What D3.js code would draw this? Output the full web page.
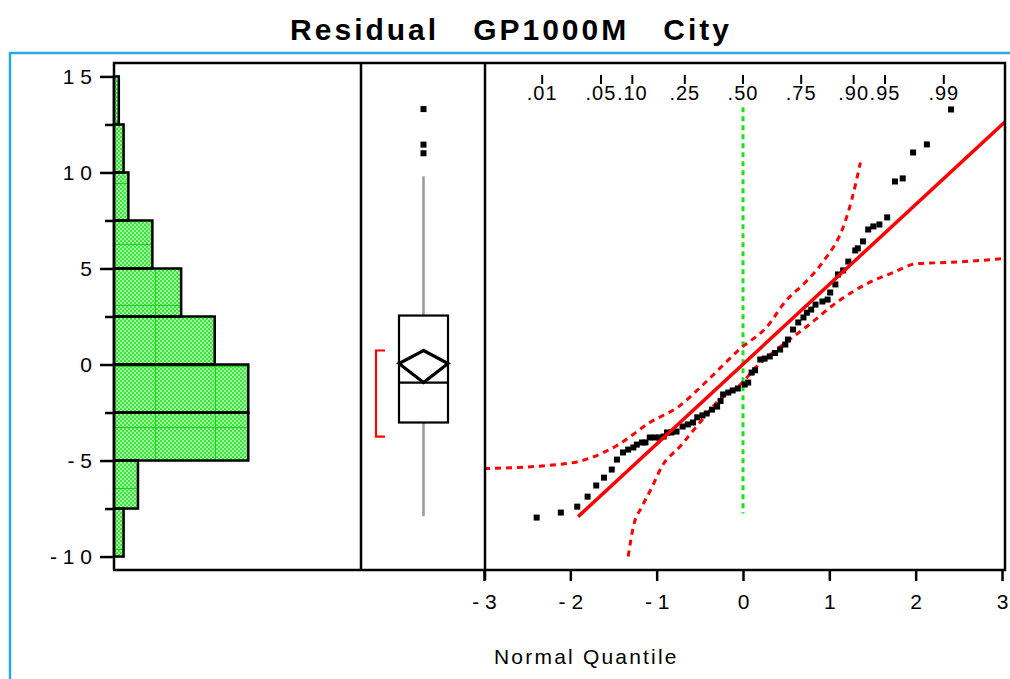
<!DOCTYPE html>
<html>
<head>
<meta charset="utf-8">
<script src="https://cdn.jsdelivr.net/npm/d3@7"></script>
<style>
  body { margin: 0; background: #fff; }
  svg { display: block; font-family: "Liberation Sans", Arial, sans-serif; }
</style>
</head>
<body>
<div id="chart"></div>
<script>
// ---- data ----
const binLow    = [-10, -7.5, -5, -2.5, 0, 2.5, 5, 7.5, 10, 12.5];
const binCounts = [2, 5, 28, 28, 21, 14, 8, 3, 2, 1];

const yMajorTicks = [-10, -5, 0, 5, 10, 15];
const yMinorTicks = [-7.5, -2.5, 2.5, 7.5, 12.5];

// outlier box plot
const whiskerLow = -7.9, q1 = -3.02, median = -0.94, q3 = 2.55, whiskerHigh = 9.8;
const meanValue = 0.05, meanLower = -0.94, meanUpper = 0.73;
const shortestHalf = [-3.75, 0.73];
const outliers = [11.0, 11.45, 13.3];

// normal quantile plot
const qqQuantile = [-2.39,-2.11,-1.92,-1.80,-1.70,-1.61,-1.52,-1.46,-1.39,-1.33,-1.27,-1.23,-1.17,-1.13,
  -1.08,-1.02,-0.97,-0.92,-0.88,-0.83,-0.77,-0.70,-0.64,-0.58,-0.53,-0.47,-0.42,-0.36,-0.30,-0.26,-0.23,
  -0.17,-0.12,-0.06,0.02,0.06,0.10,0.14,0.20,0.25,0.31,0.37,0.43,0.49,0.52,0.58,0.64,0.70,0.74,0.79,0.84,
  0.92,0.98,1.01,1.07,1.10,1.16,1.22,1.30,1.33,1.39,1.45,1.51,1.58,1.67,1.76,1.85,1.97,2.13,2.41];
const qqResidual = [-7.97,-7.71,-7.40,-6.88,-6.30,-5.89,-5.47,-4.95,-4.58,-4.43,-4.32,-4.17,-4.06,-4.06,
  -3.80,-3.80,-3.80,-3.75,-3.54,-3.54,-3.49,-3.23,-3.12,-3.02,-2.75,-2.65,-2.55,-2.35,-2.19,-1.90,-1.56,
  -1.46,-1.35,-1.25,-1.04,-0.94,-0.42,-0.30,0.26,0.31,0.42,0.60,0.78,1.04,1.30,1.82,2.19,2.45,2.70,2.86,3.12,
  3.28,3.38,3.75,4.17,4.69,4.90,5.36,5.94,6.05,6.41,7.03,7.19,7.29,7.66,9.53,9.69,11.04,11.46,13.28];

const fitLine = [[-1.91, -7.92], [3.1, 12.9]];
const bandUpper = [[-3.0,-5.42],[-2.04,-5.16],[-1.46,-4.22],[-1.08,-3.02],[-0.73,-2.14],[-0.46,-1.04],
  [-0.03,0.83],[0.28,1.98],[0.49,3.28],[0.72,4.27],[0.92,5.31],[1.18,7.40],[1.26,8.59],[1.36,10.52]];
const bandLower = [[-1.33,-10.0],[-1.27,-8.44],[-1.17,-7.40],[-1.05,-6.35],[-0.94,-5.31],[-0.73,-4.27],
  [-0.50,-3.02],[-0.27,-1.82],[-0.03,-1.04],[0.16,-0.10],[0.39,0.78],[0.74,1.98],[1.10,3.28],[1.44,4.22],
  [1.74,4.79],[2.02,5.26],[2.36,5.31],[3.04,5.52]];
const medianLine = [-7.76, 13.4];

const probLabels = [".01", ".05", ".10", ".25", ".50", ".75", ".90", ".95", ".99"];
const probQuantiles = [-2.326, -1.645, -1.2816, -0.674, 0, 0.674, 1.2816, 1.645, 2.326];
const xTicks = [-3, -2, -1, 0, 1, 2, 3];

// ---- layout ----
const W = 1010, H = 679;
const plotTop = 63, plotBottom = 570;
const histLeft = 114, boxLeft = 361, qqLeft = 485, qqRight = 1005;

const svg = d3.select("#chart").append("svg").attr("width", W).attr("height", H);

const defs = svg.append("defs");
const dots = defs.append("pattern").attr("id", "dots")
  .attr("width", 4).attr("height", 4).attr("patternUnits", "userSpaceOnUse");
dots.append("rect").attr("width", 4).attr("height", 4).attr("fill", "#9cf59c");
dots.append("rect").attr("width", 2).attr("height", 2).attr("fill", "#3fe23f");
dots.append("rect").attr("x", 2).attr("y", 2).attr("width", 2).attr("height", 2).attr("fill", "#3fe23f");
const grid = defs.append("pattern").attr("id", "grid")
  .attr("x", 155).attr("y", 183).attr("width", 60).attr("height", 61)
  .attr("patternUnits", "userSpaceOnUse");
grid.append("line").attr("x1", 0.5).attr("x2", 0.5).attr("y1", 0).attr("y2", 61)
  .attr("stroke", "#1fd01f").attr("stroke-width", 1);
grid.append("line").attr("x1", 0).attr("x2", 60).attr("y1", 0.5).attr("y2", 0.5)
  .attr("stroke", "#1fd01f").attr("stroke-width", 1);

const y = d3.scaleLinear().domain([-10.7, 15.7]).range([plotBottom, plotTop]);
const xc = d3.scaleLinear().domain([0, 51.5]).range([histLeft, boxLeft]);
const xq = d3.scaleLinear().domain([-3, 3]).range([484, 1002]);

const spaced = d => String(d).split("").join(" ");

// blue outer border
svg.append("path")
  .attr("d", `M10,${H} L10,53 L${W},53`)
  .attr("fill", "none").attr("stroke", "#2aa8df").attr("stroke-width", 2.5);

// title
svg.append("text")
  .attr("x", 511).attr("y", 40)
  .attr("text-anchor", "middle")
  .style("font-size", "30px").style("font-weight", "bold")
  .style("letter-spacing", "3px").style("white-space", "pre")
  .text("Residual   GP1000M   City");

// ---- histogram ----
const bins = binLow.map((lo, i) => ({ lo: lo, hi: lo + 2.5, n: binCounts[i] }));
const hist = svg.append("g");
hist.selectAll(".bar").data(bins).join("rect")
  .attr("x", xc(0))
  .attr("y", d => y(d.hi))
  .attr("width", d => xc(d.n) - xc(0))
  .attr("height", d => y(d.lo) - y(d.hi))
  .attr("fill", "url(#dots)");
hist.selectAll(".gridbar").data(bins).join("rect")
  .attr("x", xc(0))
  .attr("y", d => y(d.hi))
  .attr("width", d => xc(d.n) - xc(0))
  .attr("height", d => y(d.lo) - y(d.hi))
  .attr("fill", "url(#grid)")
  .attr("stroke", "#000").attr("stroke-width", 2.5);

// histogram y axis
svg.append("g")
  .attr("transform", `translate(${histLeft},0)`)
  .call(d3.axisLeft(y).tickValues(yMajorTicks).tickSize(14).tickPadding(8).tickFormat(spaced))
  .call(g => g.select(".domain").remove())
  .call(g => g.selectAll("line").attr("stroke-width", 2.5))
  .call(g => g.selectAll("text").style("font-size", "21px").attr("fill", "#000"));
svg.append("g")
  .attr("transform", `translate(${histLeft},0)`)
  .call(d3.axisLeft(y).tickValues(yMinorTicks).tickSize(9).tickFormat(""))
  .call(g => g.select(".domain").remove())
  .call(g => g.selectAll("line").attr("stroke-width", 2.5));

// ---- box plot ----
const bx0 = 399, bx1 = 448, bxc = (bx0 + bx1) / 2;
const box = svg.append("g");
box.append("line").attr("x1", bxc).attr("x2", bxc).attr("y1", y(whiskerHigh)).attr("y2", y(q3))
  .attr("stroke", "#999").attr("stroke-width", 2.5);
box.append("line").attr("x1", bxc).attr("x2", bxc).attr("y1", y(q1)).attr("y2", y(whiskerLow))
  .attr("stroke", "#999").attr("stroke-width", 2.5);
box.append("rect").attr("x", bx0).attr("y", y(q3)).attr("width", bx1 - bx0).attr("height", y(q1) - y(q3))
  .attr("fill", "none").attr("stroke", "#000").attr("stroke-width", 2.2);
box.append("line").attr("x1", bx0).attr("x2", bx1).attr("y1", y(median)).attr("y2", y(median))
  .attr("stroke", "#000").attr("stroke-width", 2.2);
box.append("path")
  .attr("d", `M${bxc},${y(meanUpper)} L${bx1},${y(meanValue)} L${bxc},${y(meanLower)} L${bx0},${y(meanValue)} Z`)
  .attr("fill", "none").attr("stroke", "#000").attr("stroke-width", 3.2);
box.append("path")
  .attr("d", `M385,${y(shortestHalf[1])} L376,${y(shortestHalf[1])} L376,${y(shortestHalf[0])} L385,${y(shortestHalf[0])}`)
  .attr("fill", "none").attr("stroke", "#f00").attr("stroke-width", 2.2);
box.selectAll(".out").data(outliers).join("rect")
  .attr("x", bxc - 3).attr("y", d => y(d) - 3).attr("width", 6).attr("height", 6).attr("fill", "#000");

// ---- normal quantile plot ----
const qq = svg.append("g");
const lineGen = d3.line().x(d => xq(d[0])).y(d => y(d[1]));
const curveGen = d3.line().x(d => xq(d[0])).y(d => y(d[1])).curve(d3.curveMonotoneX);

qq.append("line")
  .attr("x1", xq(0)).attr("x2", xq(0)).attr("y1", y(medianLine[1])).attr("y2", y(medianLine[0]))
  .attr("stroke", "#22dd22").attr("stroke-width", 3).attr("stroke-dasharray", "5,4");

qq.append("clipPath").attr("id", "qqclip").append("rect")
  .attr("x", qqLeft).attr("y", plotTop).attr("width", qqRight - qqLeft).attr("height", plotBottom - plotTop);
const clipped = qq.append("g").attr("clip-path", "url(#qqclip)");

clipped.append("path").attr("d", curveGen(bandUpper))
  .attr("fill", "none").attr("stroke", "#f00").attr("stroke-width", 3).attr("stroke-dasharray", "6,5");
clipped.append("path").attr("d", curveGen(bandLower))
  .attr("fill", "none").attr("stroke", "#f00").attr("stroke-width", 3).attr("stroke-dasharray", "6,5");

const pts = qqQuantile.map((q, i) => [q, qqResidual[i]]);
clipped.selectAll(".pt").data(pts).join("rect")
  .attr("x", d => xq(d[0]) - 3).attr("y", d => y(d[1]) - 3)
  .attr("width", 6).attr("height", 6).attr("fill", "#000");

clipped.append("path").attr("d", lineGen(fitLine))
  .attr("fill", "none").attr("stroke", "#f00").attr("stroke-width", 3.5);

// probability scale on top
const prob = svg.append("g");
prob.selectAll(".pt").data(probQuantiles).join("line")
  .attr("x1", d => xq(d)).attr("x2", d => xq(d)).attr("y1", 75).attr("y2", 84)
  .attr("stroke", "#000").attr("stroke-width", 2);
prob.selectAll(".pl").data(probLabels).join("text")
  .attr("x", (d, i) => xq(probQuantiles[i]))
  .attr("y", 100)
  .attr("text-anchor", "middle")
  .style("font-size", "20px").style("letter-spacing", "1px")
  .text(d => d);

// quantile x axis
svg.append("g")
  .attr("transform", `translate(0,${plotBottom})`)
  .call(d3.axisBottom(xq).tickValues(xTicks).tickSize(11).tickPadding(13).tickFormat(spaced))
  .call(g => g.select(".domain").remove())
  .call(g => g.selectAll("line").attr("stroke-width", 2.5))
  .call(g => g.selectAll("text").style("font-size", "21px").attr("fill", "#000"));

svg.append("text")
  .attr("x", 494).attr("y", 664)
  .style("font-size", "21px").style("letter-spacing", "2.2px")
  .text("Normal Quantile");

// ---- frames ----
const frame = svg.append("g").attr("fill", "none").attr("stroke", "#000").attr("stroke-width", 2.5);
frame.append("path").attr("d", `M${histLeft},${plotBottom} L${histLeft},${plotTop} L${qqRight},${plotTop} L${qqRight},${plotBottom} L${histLeft - 1},${plotBottom}`);
frame.append("line").attr("x1", boxLeft).attr("x2", boxLeft).attr("y1", plotTop).attr("y2", plotBottom);
frame.append("line").attr("x1", qqLeft).attr("x2", qqLeft).attr("y1", plotTop).attr("y2", plotBottom + 10);
</script>
</body>
</html>
